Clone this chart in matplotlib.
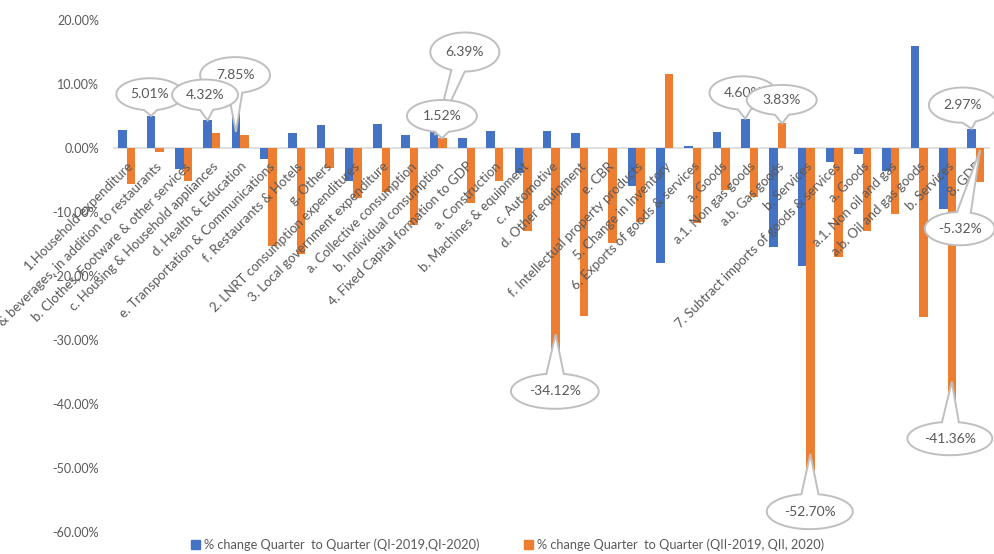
import numpy as np
import matplotlib
matplotlib.use("Agg")
import matplotlib.pyplot as plt
from matplotlib.patches import Patch, Polygon

plt.rcParams["font.family"] = ["Lato", "DejaVu Sans"]

categories = [
    "1.Household expenditure",
    "a. Food & beverages, in addition to restaurants",
    "b. Clothes, Footware & other services",
    "c. Housing & Household appliances",
    "d. Health & Education",
    "e. Transportation & Communications",
    "f. Restaurants & Hotels",
    "g. Others",
    "2. LNRT consumption expenditures",
    "3. Local government expenditure",
    "a. Collective consumption",
    "b. Individual consumption",
    "4. Fixed Capital formation to GDP",
    "a. Construction",
    "b. Machines & equipment",
    "c. Automotive",
    "d. Other equipment",
    "e. CBR",
    "f. Intellectual property products",
    "5. Change in Inventory",
    "6. Exports of goods & services",
    "a. Goods",
    "a.1. Non gas goods",
    "a.b. Gas goods",
    "b. Services",
    "7. Subtract imports of goods & services",
    "a. Goods",
    "a.1. Non oil and gas",
    "a.b. Oil and gas goods",
    "b. Services",
    "8. GDP",
]

q1_change = [2.78, 5.01, -3.35, 4.32, 7.85, -1.7, 2.4, 3.6, -5.1, 3.8, 2.05,
             2.6, 1.6, 2.7, -3.9, 2.67, 2.36, 0.0, -5.9, -17.9, 0.27, 2.46,
             4.60, -15.5, -18.4, -2.2, -1.0, -3.6, 15.97, -9.6, 2.97]
q2_change = [-5.6, -0.7, -5.2, 2.36, 2.0, -15.3, -16.6, -3.2, -7.8, -6.95, -12.0,
             1.52, -8.6, -5.2, -12.9, -34.12, -26.3, -14.9, -11.55, 11.57, -11.7, -6.5,
             -7.6, 3.83, -52.70, -17.1, -13.0, -10.3, -26.4, -41.36, -5.32]

series_names = ["% change Quarter  to Quarter (QI-2019,QI-2020)",
                "% change Quarter  to Quarter (QII-2019, QII, 2020)"]

# callouts: text, tip (x, y), ellipse centre (x, y), ellipse size (w, h) -- drawn in order
callouts = [
    ("5.01%", (0.85, 5.01), (0.81, 8.4), (2.37, 5.0)),
    ("7.85%", (3.85, 2.5), (3.82, 11.4), (2.47, 5.6)),
    ("4.32%", (2.85, 4.32), (2.76, 8.3), (2.33, 4.8)),
    ("6.39%", (10.88, 2.0), (11.94, 15.0), (2.44, 6.1)),
    ("1.52%", (11.13, 1.52), (11.13, 5.0), (2.47, 5.0)),
    ("-34.12%", (15.15, -29.1), (15.12, -38.0), (3.1, 5.5)),
    ("4.60%", (21.85, 4.6), (21.77, 8.6), (2.37, 5.2)),
    ("3.83%", (23.15, 3.83), (23.14, 7.5), (2.47, 4.7)),
    ("-52.70%", (24.15, -47.8), (24.13, -56.8), (3.04, 5.5)),
    ("-41.36%", (29.15, -36.5), (29.08, -45.4), (3.0, 5.2)),
    ("2.97%", (29.85, 3.0), (29.54, 6.7), (2.4, 5.5)),
    ("-5.32%", (30.15, -0.3), (29.43, -12.6), (2.47, 5.2)),
]

blue = "#4472C4"
orange = "#ED7D31"
grey_text = "#595959"

fig = plt.figure(figsize=(9.94, 5.54), dpi=100)
ax = fig.add_axes([0.1135, 0.0397, 0.8825, 0.9242])

x = np.arange(len(categories))
w = 0.3
ax.bar(x - w / 2, q1_change, width=w, color=blue, zorder=2)
ax.bar(x + w / 2, q2_change, width=w, color=orange, zorder=2)
ax.axhline(0, color="#D9D9D9", lw=1.2, zorder=1)

ax.set_xlim(-0.5, len(categories) - 0.5)
ax.set_ylim(-60, 20)
ax.set_yticks(np.arange(-60, 21, 10))
ax.set_yticklabels(["%.2f%%" % v for v in np.arange(-60, 21, 10)])
ax.tick_params(axis="y", length=0, pad=10, labelsize=9, labelcolor=grey_text)
ax.set_xticks([])
for s in ax.spines.values():
    s.set_visible(False)

# Rotated category labels hanging under the zero line.
for i, lab in enumerate(categories):
    ax.text(i, -1.9, lab, rotation=45, rotation_mode="anchor",
            ha="right", va="top", fontsize=9.5, color=grey_text, clip_on=False)

# Ellipse callouts with a wedge towards the bar.
def callout(ax, text, tip, centre, size, z):
    cx, cy = centre
    a, b = size[0] / 2, size[1] / 2
    t0 = np.arctan2((tip[1] - cy) / b, (tip[0] - cx) / a)
    dt = 0.2
    ts = np.linspace(t0 + dt, t0 + 2 * np.pi - dt, 120)
    pts = [(cx + a * np.cos(t), cy + b * np.sin(t)) for t in ts]
    pts.append(tip)
    ax.add_patch(Polygon(pts, closed=True, facecolor="white", edgecolor="#BFBFBF",
                         lw=1.4, zorder=z, clip_on=False))
    ax.text(cx, cy, text, ha="center", va="center", fontsize=10, color=grey_text,
            zorder=z + 0.5, clip_on=False)

for k, (txt, tip, centre, size) in enumerate(callouts):
    callout(ax, txt, tip, centre, size, 5 + k)

handles = [Patch(color=blue), Patch(color=orange)]
fig.legend(handles, series_names, loc="center", bbox_to_anchor=(0.511, 0.016),
           ncol=2, frameon=False, fontsize=9.2, handlelength=0.7, handleheight=0.7,
           handletextpad=0.3, columnspacing=3.5, labelcolor=grey_text)

fig.savefig("out.png", dpi=100)
